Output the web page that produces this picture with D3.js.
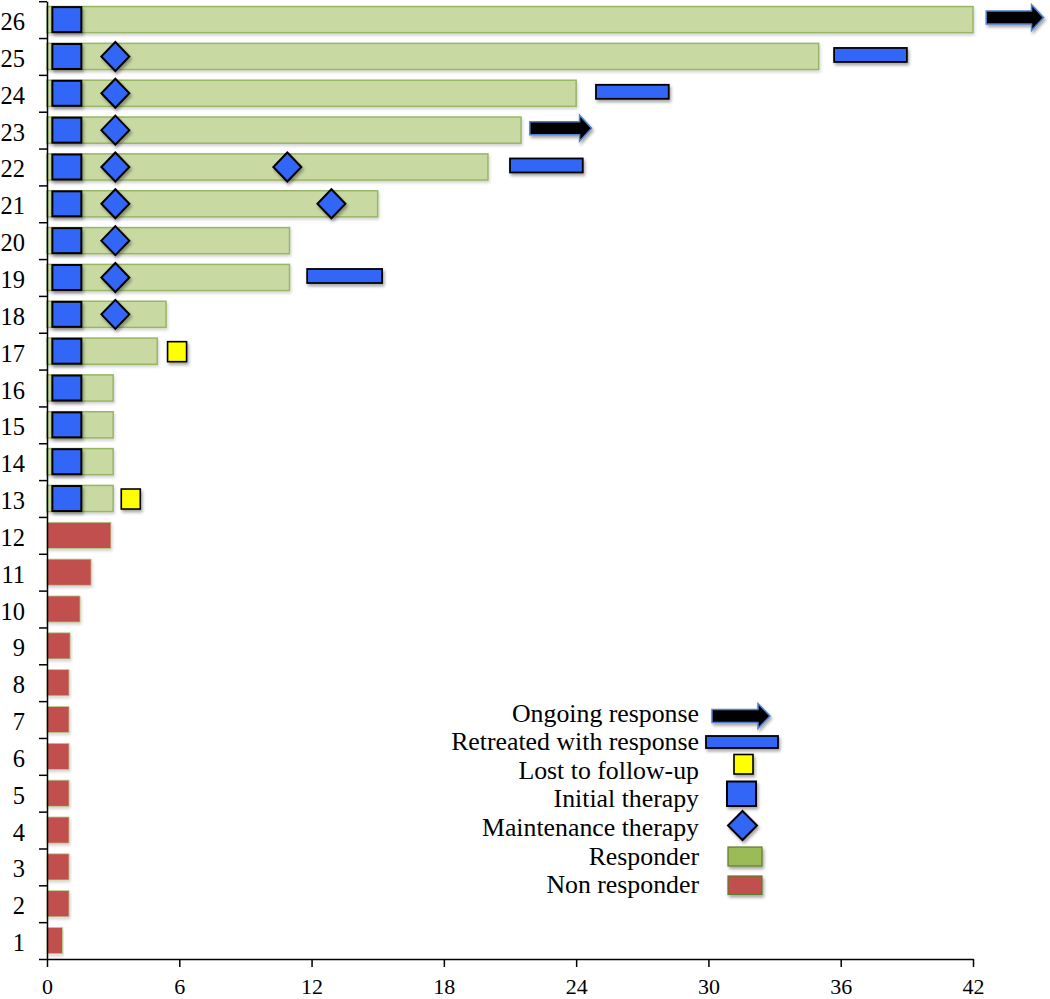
<!DOCTYPE html>
<html><head><meta charset="utf-8">
<script src="https://cdn.jsdelivr.net/npm/d3@7"></script>
<style>body{margin:0;background:#fff}svg{display:block}text{font-family:"Liberation Serif","Times New Roman",serif;fill:#000}</style>
</head><body>
<svg id="c" width="1050" height="999"></svg>
<script>
// ---- data ----
const patients = d3.range(1, 27);                       // patient numbers 1..26
const durations = [0.7,1,1,1,1,1,1,1,1.05,1.5,2,2.9, 3,3,3,3,5,5.4,11,11,15,20,21.5,24,35,42];
const responderFrom = 13;                               // patients >= 13 are responders
const initialTherapyX = 0.9;
const maintenance = [[18,3.1],[19,3.1],[20,3.1],[21,3.1],[21,12.9],[22,3.1],[22,10.9],[23,3.1],[24,3.1],[25,3.1]];
const lostFollowUp = [[17,5.9],[13,3.8]];
const retreated = [[25,35.7,39.0],[24,24.9,28.2],[22,21.0,24.3],[19,11.8,15.2]];
const ongoing = [[26,42.6,45.2],[23,21.9,24.7]];
const xTicks = [0,6,12,18,24,30,36,42];
const legendLabels = ["Ongoing response","Retreated with response","Lost to follow-up","Initial therapy","Maintenance therapy","Responder","Non responder"];

// ---- layout ----
const svg = d3.select("#c");
const x = d3.scaleLinear().domain([0,42]).range([47,973]);
const yB = d3.scaleBand().domain(patients.slice().reverse()).range([1.2,959]).paddingInner(0.29).paddingOuter(0.145);
const yL = d3.scaleLinear().domain([0,26]).range([959,1.2]);
const cy = p => yB(p) + yB.bandwidth()/2;

const defs = svg.append("defs");
const f = defs.append("filter").attr("id","sh").attr("x","-30%").attr("y","-30%").attr("width","160%").attr("height","180%");
f.append("feDropShadow").attr("dx",1.5).attr("dy",2.5).attr("stdDeviation",1.6).attr("flood-color","#000").attr("flood-opacity",0.35);
const f2 = defs.append("filter").attr("id","sh2").attr("x","-10%").attr("y","-30%").attr("width","120%").attr("height","180%");
f2.append("feDropShadow").attr("dx",1).attr("dy",2).attr("stdDeviation",1.5).attr("flood-color","#000").attr("flood-opacity",0.18);

const GREEN="#c8daa2", GREEN_S="#99b566", RED="#c0504d", BLUE="#3366f6", YEL="#ffff00";

// bars
svg.append("g").selectAll("rect").data(patients).join("rect")
  .attr("x", x(0)).attr("y", d => yB(d)).attr("height", yB.bandwidth())
  .attr("width", (d,i) => x(durations[i]) - x(0))
  .attr("fill", d => d >= responderFrom ? GREEN : RED)
  .attr("stroke", d => d >= responderFrom ? GREEN_S : "#b9cf8c")
  .attr("stroke-width", d => d >= responderFrom ? 1.5 : 0.8)
  .attr("filter","url(#sh2)");

// retreated bars
svg.append("g").selectAll("rect").data(retreated).join("rect")
  .attr("x", d => x(d[1])).attr("width", d => x(d[2]) - x(d[1]))
  .attr("y", d => cy(d[0]) - 8.5).attr("height", 14)
  .attr("fill", BLUE).attr("stroke","#000").attr("stroke-width",1.8).attr("filter","url(#sh)");

// ongoing arrows
function arrowPath(x0,x1,c,hs,hh,hl){
  const xh = x1 - hl;
  return `M${x0},${c-hs}L${xh},${c-hs}L${xh},${c-hh}L${x1},${c}L${xh},${c+hh}L${xh},${c+hs}L${x0},${c+hs}Z`;
}
svg.append("g").selectAll("path").data(ongoing).join("path")
  .attr("d", d => arrowPath(x(d[1]), x(d[2]), cy(d[0]) - 2, 6.5, 13, 12))
  .attr("fill","#000").attr("stroke","#4f7fd0").attr("stroke-width",1.5).attr("filter","url(#sh)");

// initial therapy squares
svg.append("g").selectAll("rect").data(patients.filter(p => p >= responderFrom)).join("rect")
  .attr("x", x(initialTherapyX) - 14.5).attr("width", 29)
  .attr("y", d => cy(d) - 12.5).attr("height", 25)
  .attr("fill", BLUE).attr("stroke","#000").attr("stroke-width",2).attr("filter","url(#sh)");

// maintenance diamonds
svg.append("g").selectAll("path").data(maintenance).join("path")
  .attr("d", d => { const cx = x(d[1]), c = cy(d[0]); return `M${cx},${c-14.5}L${cx+14},${c}L${cx},${c+14.5}L${cx-14},${c}Z`; })
  .attr("fill", BLUE).attr("stroke","#000").attr("stroke-width",2).attr("filter","url(#sh)");

// lost to follow-up
svg.append("g").selectAll("rect").data(lostFollowUp).join("rect")
  .attr("x", d => x(d[1]) - 9.5).attr("width", 19)
  .attr("y", d => cy(d[0]) - 9.5).attr("height", 20)
  .attr("fill", YEL).attr("stroke","#000").attr("stroke-width",1.6).attr("filter","url(#sh)");

// axes
const xa = svg.append("g").attr("transform","translate(0,959)")
  .call(d3.axisBottom(x).tickValues(xTicks).tickSize(8).tickSizeOuter(0).tickPadding(11));
xa.select(".domain").attr("stroke","#000").attr("stroke-width",1.5);
xa.selectAll(".tick line").attr("stroke","#000").attr("stroke-width",1.5);
xa.selectAll("text").attr("font-size",22).attr("font-family","Liberation Serif");

const ya = svg.append("g").attr("transform","translate(47,0)")
  .call(d3.axisLeft(yL).tickValues(d3.range(0,27)).tickFormat("").tickSize(8).tickSizeOuter(0));
ya.select(".domain").attr("stroke","#000").attr("stroke-width",1.5);
ya.selectAll(".tick line").attr("stroke","#000").attr("stroke-width",1.5);
svg.append("g").selectAll("text").data(patients).join("text")
  .attr("x", 25).attr("y", d => cy(d) + 10.5).attr("text-anchor","end").attr("font-size",24.5).text(d => d);

// legend
const lg = svg.append("g");
const ly0 = 721.5, ldy = 28.6;
lg.selectAll("text").data(legendLabels).join("text")
  .attr("x", 699).attr("y", (d,i) => ly0 + i*ldy).attr("text-anchor","end").attr("font-size",25.8).text(d => d);
lg.append("path").attr("d", arrowPath(712, 770, 716, 6.5, 12.5, 12))
  .attr("fill","#000").attr("stroke","#4f7fd0").attr("stroke-width",1.5).attr("filter","url(#sh)");
lg.append("rect").attr("x",706).attr("y",736).attr("width",72).attr("height",12)
  .attr("fill",BLUE).attr("stroke","#000").attr("stroke-width",1.8).attr("filter","url(#sh)");
lg.append("rect").attr("x",734).attr("y",754.5).attr("width",19).attr("height",19.5)
  .attr("fill",YEL).attr("stroke","#000").attr("stroke-width",1.6).attr("filter","url(#sh)");
lg.append("rect").attr("x",727).attr("y",781.5).attr("width",29).attr("height",24.5)
  .attr("fill",BLUE).attr("stroke","#000").attr("stroke-width",2).attr("filter","url(#sh)");
lg.append("path").attr("d","M742.5,811L757,825.5L742.5,840L728,825.5Z")
  .attr("fill",BLUE).attr("stroke","#000").attr("stroke-width",2).attr("filter","url(#sh)");
lg.append("rect").attr("x",728).attr("y",847).attr("width",34).attr("height",19)
  .attr("fill","#9bbb59").attr("stroke","#5f7a2e").attr("stroke-width",1.2).attr("filter","url(#sh)");
lg.append("rect").attr("x",728).attr("y",876).attr("width",34).attr("height",18.5)
  .attr("fill",RED).attr("stroke","#5f7a2e").attr("stroke-width",1.2).attr("filter","url(#sh)");
</script>
</body></html>
